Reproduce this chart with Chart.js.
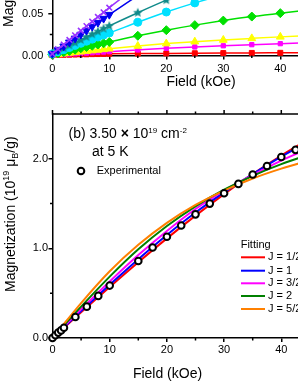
<!DOCTYPE html>
<html><head><meta charset="utf-8">
<script src="https://cdn.jsdelivr.net/npm/chart.js@4.4.1/dist/chart.umd.min.js"></script>
<style>
html,body{margin:0;padding:0;width:298px;height:385px;overflow:hidden;background:#fff;position:relative}
#c1{position:absolute;left:0;top:-40px;width:360px;height:140px}
#c2{position:absolute;left:0;top:95px;width:360px;height:290px}
</style></head><body>
<canvas id="c1" width="360" height="140"></canvas>
<canvas id="c2" width="360" height="290"></canvas>
<script>
// ---------- panel (a) data (bottom part visible) ----------
const topField   = [0,1,2,3,4,5,6,7,8,9,10,15,20,25,30,35,40,45];
const topPurple  = [0.002,0.0075,0.013,0.0185,0.024,0.0295,0.035,0.0405,0.046,0.0515,0.057,0.083,0.107,0.130,0.151,0.170,0.188,0.205];
const topBlue    = [0.002,0.0065,0.011,0.0157,0.0204,0.025,0.0298,0.0345,0.0392,0.044,0.0487,0.0715,0.093,0.113,0.131,0.148,0.163,0.177];
const topTeal    = [0.002,0.0053,0.0086,0.012,0.0153,0.0186,0.022,0.0253,0.0286,0.032,0.0353,0.051,0.066,0.080,0.093,0.105,0.116,0.126];
const topCyan    = [0.002,0.0045,0.007,0.0095,0.012,0.0145,0.017,0.0195,0.022,0.0244,0.0268,0.0396,0.0518,0.0627,0.0725,0.0815,0.0895,0.097];
const topGreen   = [0.001,0.0025,0.004,0.0055,0.007,0.0086,0.0101,0.0116,0.0131,0.0146,0.0161,0.0235,0.0302,0.0362,0.0416,0.0464,0.0505,0.0541];
const topYellow  = [0.0008,0.0015,0.0022,0.003,0.0037,0.0044,0.0052,0.0059,0.0066,0.0073,0.008,0.0113,0.0142,0.0165,0.0185,0.0204,0.0222,0.0238];
const topMagenta = [0.0005,0.0009,0.0013,0.0017,0.0021,0.0025,0.0029,0.0033,0.0037,0.0041,0.0045,0.0066,0.0086,0.0102,0.0116,0.0129,0.0141,0.0151];
const topRed     = [0.0004,0.0006,0.0008,0.0009,0.0011,0.0013,0.0014,0.0016,0.0017,0.0019,0.002,0.0023,0.0025,0.0027,0.0029,0.0031,0.0032,0.0033];
const topXTicks = [0,10,20,30,40,50];
const topXMinor = [5,15,25,35,45];
const topYTicks = [0,0.05,0.10];
const topYMinor = [0.025,0.075];

// ---------- panel (b) data ----------
const expField = [0,0.5,1,1.5,2,4,6,8,10,15,17.5,20,22.5,25,27.5,30,32.5,35,37.5,40,42.5];
const expMag   = [0,0.03,0.06,0.085,0.115,0.235,0.35,0.47,0.585,0.86,1.01,1.13,1.255,1.38,1.50,1.615,1.72,1.825,1.92,2.02,2.10];
const fitField = [0,5,10,15,20,25,30,35,40,45];
const fitJ12 = [0,0.287,0.570,0.846,1.112,1.366,1.606,1.830,2.037,2.226];
const fitJ1  = [0,0.300,0.595,0.880,1.150,1.400,1.625,1.830,2.025,2.200];
const fitJ32 = [0,0.320,0.630,0.925,1.195,1.440,1.645,1.820,1.980,2.120];
const fitJ2  = [0,0.350,0.685,0.990,1.250,1.470,1.655,1.810,1.940,2.050];
const fitJ52 = [0,0.390,0.745,1.040,1.285,1.485,1.645,1.780,1.890,1.985];
const fitLabels = ['J = 1/2','J = 1','J = 3/2','J = 2','J = 5/2'];
const fitColors = ['#ff0000','#0000ff','#ff00ff','#008000','#ff8000'];
const botXTicks = [0,10,20,30,40,50];
const botXMinor = [5,15,25,35,45];
const botYTicks = [0,1,2];
const botYMinor = [0.5,1.5];

const FONT = "'Liberation Sans', Arial, Helvetica, sans-serif";
Chart.defaults.font.family = FONT;
Chart.defaults.font.size = 11;
Chart.defaults.color = '#000';

function starCanvas(color, r){
  const s = Math.ceil(2*r+2), c = document.createElement('canvas');
  c.width = s; c.height = s;
  const g = c.getContext('2d'); g.fillStyle = color; g.beginPath();
  for (let i=0;i<10;i++){ const a=-Math.PI/2+i*Math.PI/5, rr=(i%2)?r*0.45:r; g.lineTo(s/2+rr*Math.cos(a), s/2+rr*Math.sin(a)); }
  g.closePath(); g.fill(); return c;
}
function drawRich(ctx, x, y, parts){
  let cx = x;
  parts.forEach(p=>{
    ctx.font = (p.bold?'bold ':'') + p.size + 'px ' + FONT;
    ctx.fillText(p.t, cx, y + (p.dy||0));
    cx += ctx.measureText(p.t).width;
  });
}
const ticksPlugin = {
  id:'deco',
  afterDraw(chart, args, o){
    const {ctx, chartArea:a, scales:{x,y}} = chart;
    ctx.save(); ctx.strokeStyle='#000'; ctx.lineWidth=1.5; ctx.beginPath();
    o.xMinor.forEach(v=>{const p=x.getPixelForValue(v); ctx.moveTo(p,a.bottom); ctx.lineTo(p,a.bottom+2.5);});
    o.yMinor.forEach(v=>{const p=y.getPixelForValue(v); ctx.moveTo(a.left,p); ctx.lineTo(a.left-2.5,p);});
    if (o.top){
      ctx.moveTo(a.left-0.75,a.top); ctx.lineTo(a.right,a.top);
      o.xMajor.forEach(v=>{const p=x.getPixelForValue(v); ctx.moveTo(p,a.top); ctx.lineTo(p,a.top-4);});
      o.xMinor.forEach(v=>{const p=x.getPixelForValue(v); ctx.moveTo(p,a.top); ctx.lineTo(p,a.top-2.5);});
    }
    ctx.stroke();
    ctx.fillStyle='#000'; ctx.textAlign='left'; ctx.textBaseline='alphabetic';
    if (o.draw) o.draw(ctx);
    ctx.restore();
  }
};
function axisX(ticks, h, pad){
  return {type:'linear', min:0, max:50,
    afterBuildTicks:s=>{s.ticks=ticks.map(v=>({value:v}));},
    ticks:{padding:pad, maxRotation:0, autoSkip:false, callback:v=>String(v)},
    grid:{display:true, drawOnChartArea:false, drawTicks:true, tickLength:4, color:'#000', lineWidth:1.5},
    border:{display:true, color:'#000', width:1.5},
    afterFit:s=>{s.height=h;}};
}
function axisY(ticks, max, w, pad, dec){
  return {type:'linear', min:0, max:max,
    afterBuildTicks:s=>{s.ticks=ticks.map(v=>({value:v}));},
    ticks:{padding:pad, autoSkip:false, callback:v=>Number(v).toFixed(dec)},
    grid:{display:true, drawOnChartArea:false, drawTicks:true, tickLength:4, color:'#000', lineWidth:1.5},
    border:{display:true, color:'#000', width:1.5},
    afterFit:s=>{s.width=w;}};
}

// ---------- chart (a) ----------
function topSet(label, vals, color, style, radius, extra){
  return Object.assign({label, data:topField.map((x,i)=>({x, y:vals[i]})),
    borderColor:color, backgroundColor:color, pointBackgroundColor:color, pointBorderColor:color,
    pointStyle:style, pointRadius:radius, pointBorderWidth:1, borderWidth:1.5,
    cubicInterpolationMode:'monotone', clip:false}, extra||{});
}
new Chart(document.getElementById('c1'), {
  type:'line',
  data:{datasets:[
    topSet('p', topPurple, '#9933ff', 'crossRot', 4, {pointBorderWidth:1.6}),
    topSet('b', topBlue, '#0000ee', 'triangle', 4.5, {rotation:180}),
    topSet('t', topTeal, '#108a8a', starCanvas('#108a8a',5), 5),
    topSet('c', topCyan, '#00e0ff', 'circle', 4),
    topSet('g', topGreen, '#00e000', 'rectRot', 4.5),
    topSet('y', topYellow, '#ffff00', 'triangle', 4.5),
    topSet('m', topMagenta, '#ff00ff', 'rect', 3),
    topSet('r', topRed, '#ff0000', 'rect', 3.5)
  ]},
  options:{responsive:false, animation:false, events:[],
    layout:{padding:{left:0,right:22.7,top:10,bottom:0}},
    plugins:{legend:{display:false}, tooltip:{enabled:false},
      deco:{xMinor:topXMinor, yMinor:topYMinor, top:false,
        draw:(ctx)=>{
          ctx.font='14px '+FONT; ctx.textAlign='center';
          ctx.fillText('Field (kOe)', 201, 126);
          ctx.textAlign='left';
          ctx.save(); ctx.translate(12.5, 67); ctx.rotate(-Math.PI/2);
          drawRich(ctx, 0, 0, [{t:'Magnetization (emu/g)', size:14}]);
          ctx.restore();
        }}},
    scales:{x:axisX(topXTicks, 44.5, 2.5), y:axisY(topYTicks, 0.10, 52.3, 5, 2)}
  },
  plugins:[ticksPlugin]
});

// ---------- chart (b) ----------
const fits = [fitJ12, fitJ1, fitJ32, fitJ2, fitJ52];
const fitSets = fits.map((vals,i)=>({label:fitLabels[i], data:fitField.map((x,k)=>({x, y:vals[k]})),
  borderColor:fitColors[i], backgroundColor:fitColors[i], borderWidth:2, pointRadius:0,
  cubicInterpolationMode:'monotone'})).reverse();
new Chart(document.getElementById('c2'), {
  type:'line',
  data:{datasets:[
    {label:'Experimental', data:expField.map((x,i)=>({x, y:expMag[i]})), showLine:false,
     pointRadius:3.3, pointBorderWidth:2, pointBackgroundColor:'#fff', pointBorderColor:'#000',
     borderColor:'#000', clip:false}
  ].concat(fitSets)},
  options:{responsive:false, animation:false, events:[],
    layout:{padding:{left:0,right:21.5,top:19,bottom:0}},
    plugins:{legend:{display:false}, tooltip:{enabled:false},
      deco:{xMinor:botXMinor, yMinor:botYMinor, top:true, xMajor:botXTicks,
        draw:(ctx)=>{
          drawRich(ctx, 68.5, 43, [{t:'(b) 3.50 ',size:14},{t:'×',size:14,bold:true},{t:' 10',size:14},{t:'19',size:8,dy:-5},{t:' cm',size:14},{t:'-2',size:8,dy:-5}]);
          drawRich(ctx, 92, 60.5, [{t:'at 5 K',size:14}]);
          ctx.beginPath(); ctx.arc(81, 76, 3.3, 0, 2*Math.PI); ctx.fillStyle='#fff'; ctx.fill();
          ctx.lineWidth=2; ctx.strokeStyle='#000'; ctx.stroke(); ctx.fillStyle='#000';
          ctx.textBaseline='middle';
          ctx.font='11px '+FONT; ctx.fillText('Experimental', 96.7, 76);
          ctx.fillText('Fitting', 240.7, 150);
          const ly=[162.3,175.7,188.3,201,214];
          fitLabels.forEach((l,i)=>{
            ctx.beginPath(); ctx.moveTo(241, ly[i]); ctx.lineTo(265, ly[i]);
            ctx.strokeStyle=fitColors[i]; ctx.lineWidth=2; ctx.stroke();
            ctx.fillText(l, 268, ly[i]);
          });
          ctx.textBaseline='alphabetic';
          ctx.font='14px '+FONT; ctx.textAlign='center';
          ctx.fillText('Field (kOe)', 167.5, 283.3);
          ctx.textAlign='left';
          ctx.save(); ctx.translate(15, 197); ctx.rotate(-Math.PI/2);
          drawRich(ctx, 0, 0, [{t:'Magnetization (10',size:14},{t:'19',size:9,dy:-6},{t:' μ',size:14},{t:'B',size:9,dy:3},{t:'/g)',size:14}]);
          ctx.restore();
        }}},
    scales:{x:axisX(botXTicks, 47, 1), y:axisY(botYTicks, 2.5, 52.5, 0.5, 1)}
  },
  plugins:[ticksPlugin]
});
</script>
</body></html>
